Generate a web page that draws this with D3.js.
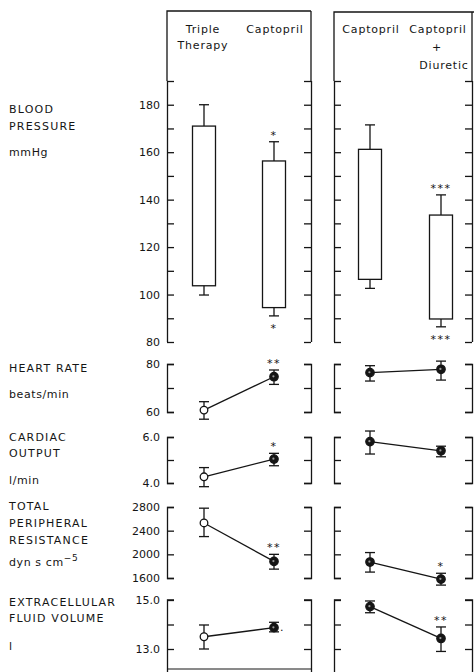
<!DOCTYPE html>
<html>
<head>
<meta charset="utf-8">
<script src="https://cdn.jsdelivr.net/npm/d3@7/dist/d3.min.js"></script>
<style>
  html, body { margin: 0; padding: 0; background: #fff; }
  svg { display: block; }
  text { font-family: "DejaVu Sans", sans-serif; fill: #151515; }
</style>
</head>
<body>
<script>
// Treatment groups: two comparisons, each shown in its own framed panel
const leftGroups = ["Triple Therapy", "Captopril"];
const rightGroups = ["Captopril (alone)", "Captopril + Diuretic"];
const groups = leftGroups.concat(rightGroups);

// Blood pressure (mmHg): systolic / diastolic means and SEM
const bpSystolic = [171, 156.3, 161.2, 133.5];
const bpSystolicSem = [9, 8.1, 10.3, 8.5];
const bpDiastolic = [103.7, 94.5, 106.4, 89.7];
const bpDiastolicSem = [3.9, 3.5, 3.8, 3.3];
const bpSigUpper = ["", "*", "", "***"];
const bpSigLower = ["", "*", "", "***"];
const bpTicks = [80, 90, 100, 110, 120, 130, 140, 150, 160, 170, 180, 190];
const bpTickLabels = [80, 100, 120, 140, 160, 180];

// Heart rate (beats/min)
const hrMean = [60.8, 74.7, 76.4, 77.8];
const hrHigh = [64.3, 77.5, 79.3, 81.2];
const hrLow = [57.0, 71.5, 72.9, 73.3];
const hrSig = ["", "**", "", ""];

// Cardiac output (l/min)
const coMean = [4.27, 5.04, 5.80, 5.40];
const coHigh = [4.67, 5.29, 6.26, 5.60];
const coLow = [3.84, 4.75, 5.26, 5.14];
const coSig = ["", "*", "", ""];

// Total peripheral resistance (dyn s cm-5)
const tprMean = [2530, 1880, 1870, 1580];
const tprHigh = [2780, 2000, 2030, 1680];
const tprLow = [2300, 1750, 1700, 1480];
const tprSig = ["", "**", "", "*"];

// Extracellular fluid volume (l)
const ecfMean = [13.50, 13.87, 14.73, 13.43];
const ecfHigh = [13.98, 14.09, 14.96, 13.90];
const ecfLow = [13.00, 13.70, 14.48, 12.90];
const ecfSig = ["", "", "", "**"];
const ecfMark = ["", ".", "", ""];

const W = 474, H = 672;
const svg = d3.select("body").append("svg").attr("width", W).attr("height", H);
const ink = "#151515";

// Panel frames
const panels = [
  { groups: leftGroups, x0: 167, x1: 311, top: 11, cols: [204, 274], idx: [0, 1], bottomRule: true },
  { groups: rightGroups, x0: 334, x1: 472, top: 12, cols: [370, 441], idx: [2, 3], bottomRule: false }
];
panels.forEach(p => {
  p.x = d3.scalePoint().domain(p.groups).range(p.cols);
});

// Rows: scale, ticks, labels
const bpY = d3.scaleLinear().domain([80, 190]).range([342, 81]);
const rows = [
  { key: "hr", y: d3.scaleLinear().domain([60, 80]).range([412, 364]), ticks: [60, 70, 80],
    labels: { 60: "60", 80: "80" }, mean: hrMean, hi: hrHigh, lo: hrLow, sig: hrSig },
  { key: "co", y: d3.scaleLinear().domain([4, 6]).range([483, 437]), ticks: [4, 5, 6],
    labels: { 4: "4.0", 6: "6.0" }, mean: coMean, hi: coHigh, lo: coLow, sig: coSig },
  { key: "tpr", y: d3.scaleLinear().domain([1600, 2800]).range([578, 507]), ticks: [1600, 2000, 2400, 2800],
    labels: { 1600: "1600", 2000: "2000", 2400: "2400", 2800: "2800" }, mean: tprMean, hi: tprHigh, lo: tprLow, sig: tprSig },
  { key: "ecf", y: d3.scaleLinear().domain([13, 15]).range([649, 600]), ticks: [13, 14, 15],
    labels: { 13: "13.0", 15: "15.0" }, mean: ecfMean, hi: ecfHigh, lo: ecfLow, sig: ecfSig, extendTo: 672 }
];

const tick = 7;
const lineW = 1.3;

function drawAxis(g, scale, values, side, x, labelFn) {
  const axis = (side === "left" ? d3.axisLeft(scale) : d3.axisRight(scale))
    .tickValues(values)
    .tickSizeInner(-tick)
    .tickSizeOuter(-tick)
    .tickPadding(6)
    .tickFormat(labelFn || (() => ""));
  const a = g.append("g").attr("transform", `translate(${x},0)`).call(axis);
  a.select(".domain").attr("stroke", ink).attr("stroke-width", lineW);
  a.selectAll(".tick line").attr("stroke", ink).attr("stroke-width", lineW);
  a.selectAll(".tick text").attr("font-size", 11).attr("font-family", "DejaVu Sans").attr("fill", ink);
  return a;
}

// ---- Blood pressure frames
panels.forEach((p, pi) => {
  const g = svg.append("g");
  // frame: top rule plus sides running down to the 80 mmHg tick
  g.append("path")
    .attr("d", `M${p.x0},${bpY(190)}V${p.top}H${pi === 1 ? W : p.x1}`)
    .attr("fill", "none").attr("stroke", ink).attr("stroke-width", lineW);
  g.append("path")
    .attr("d", `M${p.x1},${p.top}V${bpY(190)}`)
    .attr("fill", "none").attr("stroke", ink).attr("stroke-width", lineW);
  const leftLabels = pi === 0 ? (d => bpTickLabels.includes(d) ? String(d) : "") : null;
  const la = drawAxis(g, bpY, bpTicks, "left", p.x0, leftLabels);
  la.select(".domain").attr("d", `M${p.x0 === 0 ? 0 : 0.5},${bpY(80)}V${bpY(190)}`);
  const ra = drawAxis(g, bpY, bpTicks, "right", p.x1, null);
  ra.select(".domain").attr("d", `M0.5,${bpY(80)}V${bpY(190)}`);
  if (pi === 0) la.selectAll(".tick text").attr("dx", -1);
});

// ---- Blood pressure boxes with SEM whiskers
const boxW = 23, capW = 10;
panels.forEach(p => {
  p.idx.forEach((gi, k) => {
    const cx = p.x(p.groups[k]);
    const g = svg.append("g");
    const sys = bpSystolic[gi], dia = bpDiastolic[gi];
    g.append("rect")
      .attr("x", cx - boxW / 2).attr("y", bpY(sys))
      .attr("width", boxW).attr("height", bpY(dia) - bpY(sys))
      .attr("fill", "#fff").attr("stroke", ink).attr("stroke-width", lineW);
    const up = sys + bpSystolicSem[gi], dn = dia - bpDiastolicSem[gi];
    g.append("line").attr("x1", cx).attr("x2", cx).attr("y1", bpY(sys)).attr("y2", bpY(up))
      .attr("stroke", ink).attr("stroke-width", lineW);
    g.append("line").attr("x1", cx - capW / 2).attr("x2", cx + capW / 2).attr("y1", bpY(up)).attr("y2", bpY(up))
      .attr("stroke", ink).attr("stroke-width", lineW);
    g.append("line").attr("x1", cx).attr("x2", cx).attr("y1", bpY(dia)).attr("y2", bpY(dn))
      .attr("stroke", ink).attr("stroke-width", lineW);
    g.append("line").attr("x1", cx - capW / 2).attr("x2", cx + capW / 2).attr("y1", bpY(dn)).attr("y2", bpY(dn))
      .attr("stroke", ink).attr("stroke-width", lineW);
    if (bpSigUpper[gi]) {
      g.append("text").attr("x", cx).attr("y", bpY(up) - 3).attr("text-anchor", "middle")
        .attr("font-size", 11).attr("letter-spacing", 1.5).text(bpSigUpper[gi]);
    }
    if (bpSigLower[gi]) {
      g.append("text").attr("x", cx).attr("y", bpY(dn) + 16).attr("text-anchor", "middle")
        .attr("font-size", 11).attr("letter-spacing", 1.5).text(bpSigLower[gi]);
    }
  });
});

// ---- Haemodynamic rows
rows.forEach(r => {
  panels.forEach((p, pi) => {
    const g = svg.append("g");
    const la = drawAxis(g, r.y, r.ticks, "left", p.x0, pi === 0 ? (d => r.labels[d] || "") : null);
    const ra = drawAxis(g, r.y, r.ticks, "right", p.x1, null);
    if (r.extendTo) {
      const [lo] = r.y.range();
      la.select(".domain").attr("d", `M${tick},${r.y.range()[1]}H0.5V${r.extendTo}`);
      ra.select(".domain").attr("d", `M${-tick},${r.y.range()[1]}H0.5V${r.extendTo}`);
      if (p.bottomRule) {
        g.append("line").attr("x1", p.x0).attr("x2", p.x1).attr("y1", r.extendTo - 3).attr("y2", r.extendTo - 3)
          .attr("stroke", ink).attr("stroke-width", 1);
      }
    }
    if (pi === 0) la.selectAll(".tick text").attr("dx", -1);

    // connecting line
    const pts = p.idx.map((gi, k) => [p.x(p.groups[k]), r.y(r.mean[gi])]);
    g.append("path").attr("d", d3.line()(pts))
      .attr("fill", "none").attr("stroke", ink).attr("stroke-width", lineW);

    p.idx.forEach((gi, k) => {
      const cx = p.x(p.groups[k]);
      g.append("line").attr("x1", cx).attr("x2", cx).attr("y1", r.y(r.hi[gi])).attr("y2", r.y(r.lo[gi]))
        .attr("stroke", ink).attr("stroke-width", lineW);
      [r.hi[gi], r.lo[gi]].forEach(v => {
        g.append("line").attr("x1", cx - capW / 2).attr("x2", cx + capW / 2).attr("y1", r.y(v)).attr("y2", r.y(v))
          .attr("stroke", ink).attr("stroke-width", lineW);
      });
      const open = gi === 0;
      g.append("circle").attr("cx", cx).attr("cy", r.y(r.mean[gi])).attr("r", open ? 3.8 : 4.2)
        .attr("fill", open ? "#fff" : ink).attr("stroke", ink).attr("stroke-width", lineW);
      if (!open) {
        g.append("circle").attr("cx", cx - 0.6).attr("cy", r.y(r.mean[gi]) - 0.4).attr("r", 1.1)
          .attr("fill", "#9a9a9a");
      }
      if (r.sig[gi]) {
        g.append("text").attr("x", cx).attr("y", r.y(r.hi[gi]) - 3).attr("text-anchor", "middle")
          .attr("font-size", 11).attr("letter-spacing", 1.5).text(r.sig[gi]);
      }
      if (r.key === "ecf" && ecfMark[gi]) {
        g.append("text").attr("x", cx + 6).attr("y", r.y(r.mean[gi]) + 3)
          .attr("font-size", 11).text(ecfMark[gi]);
      }
    });
  });
});

// ---- Column headings
const head = svg.append("g").attr("font-size", 11).attr("letter-spacing", 0.8);
const headings = [
  { lines: ["Triple", "Therapy"], x: 203, y: [33, 49] },
  { lines: ["Captopril"], x: 275, y: [33] },
  { lines: ["Captopril"], x: 371, y: [33] },
  { lines: ["Captopril", "+", "Diuretic"], x: 438, y: [33, 51, 69], xs: [438, 437, 444] }
];
headings.forEach(h => {
  h.lines.forEach((t, i) => {
    head.append("text").attr("x", h.xs ? h.xs[i] : h.x).attr("y", h.y[i])
      .attr("text-anchor", "middle").text(t);
  });
});

// ---- Variable names and units
const names = svg.append("g").attr("font-size", 11);
const nameLines = [
  ["BLOOD", 113, true], ["PRESSURE", 130, true], ["mmHg", 156, false],
  ["HEART RATE", 372, true], ["beats/min", 398, false],
  ["CARDIAC", 441, true], ["OUTPUT", 457, true], ["l/min", 484, false],
  ["TOTAL", 510, true], ["PERIPHERAL", 527, true], ["RESISTANCE", 544, true],
  ["EXTRACELLULAR", 606, true], ["FLUID VOLUME", 622, true], ["l", 650, false]
];
nameLines.forEach(([t, y, caps]) => {
  names.append("text").attr("x", 9).attr("y", y)
    .attr("letter-spacing", caps ? 1.2 : 0.6).text(t);
});
const tprUnit = names.append("text").attr("x", 9).attr("y", 566).attr("letter-spacing", 0.6);
tprUnit.append("tspan").text("dyn  s  cm");
tprUnit.append("tspan").attr("dy", -5).attr("font-size", 9).text("−5");
</script>
</body>
</html>
